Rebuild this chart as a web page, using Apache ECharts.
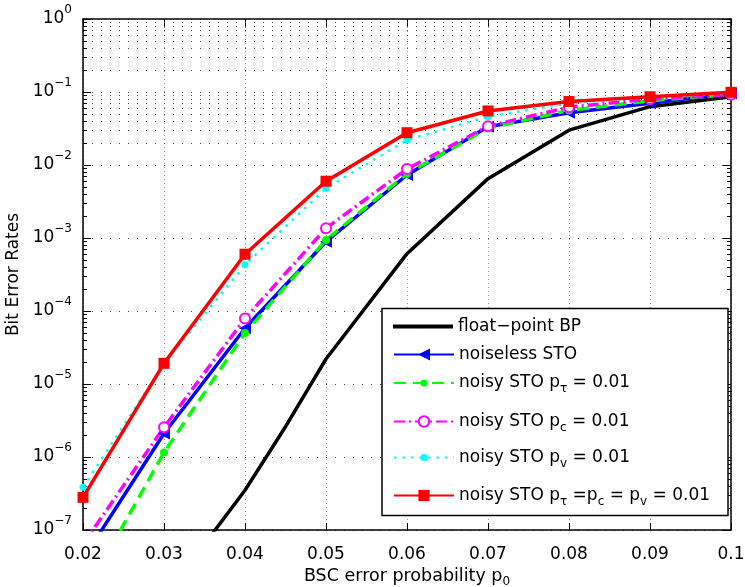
<!DOCTYPE html>
<html><head><meta charset="utf-8">
<script src="https://cdn.jsdelivr.net/npm/echarts@6/dist/echarts.min.js"></script>
<style>html,body{margin:0;padding:0;background:#fff}#c{width:745px;height:587px}</style>
</head><body><div id="c"></div>
<script>
// ---- data ----
const xValues = [0.02, 0.03, 0.04, 0.05, 0.06, 0.07, 0.08, 0.09, 0.1];
const xTickLabels = ['0.02', '0.03', '0.04', '0.05', '0.06', '0.07', '0.08', '0.09', '0.1'];
const yTickExponents = ['\u22127', '\u22126', '\u22125', '\u22124', '\u22123', '\u22122', '\u22121', '0'];
const bpX = [0.03, 0.035, 0.04, 0.045, 0.05, 0.06, 0.07, 0.08, 0.09, 0.1];
const bpBER = [1e-8, 6.4e-8, 3.5e-7, 2.6e-6, 2.2e-5, 6.1e-4, 6.5e-3, 3.0e-2, 6.3e-2, 8.6e-2];
const noiselessBER = [4e-8, 2.1e-6, 5.8e-5, 8.9e-4, 7.3e-3, 3.35e-2, 5.2e-2, 7.0e-2, 9.6e-2];
const noisyTauBER = [1.2e-8, 1.15e-6, 5.0e-5, 9.4e-4, 7.6e-3, 3.2e-2, 5.6e-2, 7.6e-2, 9.3e-2];
const noisyCBER = [6.4e-8, 2.55e-6, 7.9e-5, 1.36e-3, 8.8e-3, 3.4e-2, 6.2e-2, 8.0e-2, 9.2e-2];
const noisyVBER = [3.85e-7, 1.9e-5, 4.3e-4, 4.8e-3, 2.2e-2, 4.6e-2, 7.0e-2, 8.5e-2, 9.6e-2];
const noisyAllBER = [2.8e-7, 1.92e-5, 6.0e-4, 6.0e-3, 2.77e-2, 5.5e-2, 7.4e-2, 8.6e-2, 9.9e-2];
const seriesNames = ['float-point BP', 'noiseless STO', 'noisy STO pt', 'noisy STO pc', 'noisy STO pv', 'noisy STO all'];
const legendLabels = [
  '{b|float\u2212point BP}',
  '{b|noiseless STO}',
  '{b|noisy STO p}{sub|\u03c4}{b| = 0.01}',
  '{b|noisy STO p}{sub|c}{b| = 0.01}',
  '{b|noisy STO p}{sub|v}{b| = 0.01}',
  '{b|noisy STO p}{sub|\u03c4}{b| =p}{sub|c}{b| = p}{sub|v}{b| = 0.01}'
];

// ---- chart ----
const FONT = "'DejaVu Sans', 'Liberation Sans', Arial, sans-serif";
const pairs = (xs, ys) => xs.map((x, i) => [x, ys[i]]);
const chart = echarts.init(document.getElementById('c'), null, {renderer: 'canvas'});

const X_MIN = 0.02, X_MAX = 0.1, Y_MIN = 1e-7, Y_MAX = 1;
// log-axis minor grid positions (2..9 x 10^d)
const minorVals = [];
for (let d = -7; d < 0; d++) for (let k = 2; k <= 9; k++) minorVals.push(k * Math.pow(10, d));
const tickLen = (X_MAX - X_MIN) * 4 / 648;

const xAxisBase = {
  type: 'value', min: X_MIN, max: X_MAX, interval: 0.01,
  axisLine: {show: true, onZero: false, lineStyle: {color: '#000', width: 1.5}},
  axisTick: {show: true, inside: true, length: 7, lineStyle: {color: '#000', width: 1}},
  splitLine: {show: false}
};
const yAxisBase = {
  type: 'log', logBase: 10, min: Y_MIN, max: Y_MAX,
  axisLine: {show: true, lineStyle: {color: '#000', width: 1.5}},
  axisTick: {show: true, inside: true, length: 8, lineStyle: {color: '#000', width: 1}},
  minorTick: {show: false},
  splitLine: {show: false}
};

const legendCenters = [325, 353, 381.5, 420, 456, 494];
const legendIconH = [4, 15, 9, 13, 9, 14];
const LEG_SHIFT = 5;

chart.setOption({
  animation: false,
  backgroundColor: '#fff',
  grid: {left: 83, right: 14, top: 19, bottom: 57, containLabel: false, outerBoundsMode: 'none'},
  xAxis: [
    Object.assign({}, xAxisBase, {
      position: 'bottom',
      splitLine: {show: true, lineStyle: {color: '#999', width: 1, type: [1, 3]}},
      axisLabel: {
        margin: 16, color: '#000', fontSize: 17, fontFamily: FONT,
        formatter: v => xTickLabels[Math.round((v - X_MIN) / 0.01)]
      },
      name: '{b|BSC error probability p}{sub|0}',
      nameLocation: 'middle', nameGap: 29,
      nameTextStyle: {
        color: '#000', fontFamily: FONT, fontSize: 17.5,
        rich: {b: {fontSize: 17.5, lineHeight: 22, fontFamily: FONT, color: '#000'},
               sub: {fontSize: 12, lineHeight: 9, verticalAlign: 'bottom', fontFamily: FONT, color: '#000'}}
      }
    }),
    Object.assign({}, xAxisBase, {position: 'top', axisLabel: {show: false}})
  ],
  yAxis: [
    Object.assign({}, yAxisBase, {
      position: 'left',
      splitLine: {show: true, lineStyle: {color: '#444', width: 1, type: [1, 8]}},
      axisLabel: {
        margin: 11, color: '#000', fontFamily: FONT,
        formatter: v => '{b|10}{s|' + yTickExponents[Math.round(Math.log10(v)) + 7] + '}',
        rich: {b: {fontSize: 17, lineHeight: 30, fontFamily: FONT, color: '#000'},
               s: {fontSize: 12, lineHeight: 14, verticalAlign: 'top', fontFamily: FONT, color: '#000'}}
      },
      name: 'Bit Error Rates', nameLocation: 'middle', nameGap: 54,
      nameTextStyle: {color: '#000', fontFamily: FONT, fontSize: 17}
    }),
    Object.assign({}, yAxisBase, {position: 'right', axisLabel: {show: false}})
  ],
  legend: seriesNames.map((n, i) => {
    const lg = {
      data: [n], left: 393, top: legendCenters[i] - 12 + LEG_SHIFT, padding: 0,
      itemWidth: 60, itemHeight: legendIconH[i], selectedMode: false, z: 5,
      formatter: () => legendLabels[i],
      textStyle: {
        color: '#000', fontFamily: FONT, fontSize: 17,
        rich: {b: {fontSize: 17, lineHeight: 24, fontFamily: FONT, color: '#000'},
               sub: {fontSize: 12, lineHeight: 9, verticalAlign: 'bottom', fontFamily: FONT, color: '#000'}}
      }
    };
    if (i === 0) lg.icon = 'rect';
    return lg;
  }),
  graphic: [{
    type: 'rect', z: 4,
    shape: {x: 382, y: 308.5, width: 346, height: 207},
    style: {fill: '#fff', stroke: '#000', lineWidth: 1.5}
  }],
  series: [
    {
      name: 'grid-helper', type: 'line', data: [], silent: true, z: 1,
      markLine: {
        silent: true, symbol: ['none', 'none'], z: 1, animation: false,
        label: {show: false}, emphasis: {disabled: true},
        data: [].concat(
          minorVals.map(v => ({yAxis: v, lineStyle: {color: '#444', width: 1, type: [1, 8]}})),
          minorVals.map(v => [{coord: [X_MIN, v], lineStyle: {color: '#000', width: 1, type: 'solid'}}, {coord: [X_MIN + tickLen, v]}]),
          minorVals.map(v => [{coord: [X_MAX - tickLen, v], lineStyle: {color: '#000', width: 1, type: 'solid'}}, {coord: [X_MAX, v]}])
        )
      }
    },
    {name: seriesNames[0], type: 'line', data: pairs(bpX, bpBER), showSymbol: false, symbol: 'none',
     lineStyle: {color: '#000', width: 3.5}, itemStyle: {color: '#000'}, clip: true, z: 2},
    {name: seriesNames[1], type: 'line', data: pairs(xValues, noiselessBER), symbol: 'triangle', symbolSize: 12, symbolRotate: 90,
     lineStyle: {color: '#0000ff', width: 3.5}, itemStyle: {color: '#0000ff'}, clip: true, z: 2},
    {name: seriesNames[2], type: 'line', data: pairs(xValues, noisyTauBER), symbol: 'circle', symbolSize: 8,
     lineStyle: {color: '#00ff00', width: 3.5, type: [12, 7]}, itemStyle: {color: '#00ff00'}, clip: true, z: 2},
    {name: seriesNames[3], type: 'line', data: pairs(xValues, noisyCBER), symbol: 'emptyCircle', symbolSize: 10,
     lineStyle: {color: '#ff00ff', width: 3.5, type: [11, 4, 2, 4]}, itemStyle: {color: '#ff00ff', borderColor: '#ff00ff', borderWidth: 2.5}, clip: true, z: 2},
    {name: seriesNames[4], type: 'line', data: pairs(xValues, noisyVBER), symbol: 'circle', symbolSize: 7,
     lineStyle: {color: '#00ffff', width: 2.5, type: [2.5, 6]}, itemStyle: {color: '#00ffff'}, clip: true, z: 2},
    {name: seriesNames[5], type: 'line', data: pairs(xValues, noisyAllBER), symbol: 'rect', symbolSize: 11,
     lineStyle: {color: '#ff0000', width: 3.5}, itemStyle: {color: '#ff0000'}, clip: true, z: 2}
  ]
});
</script></body></html>
